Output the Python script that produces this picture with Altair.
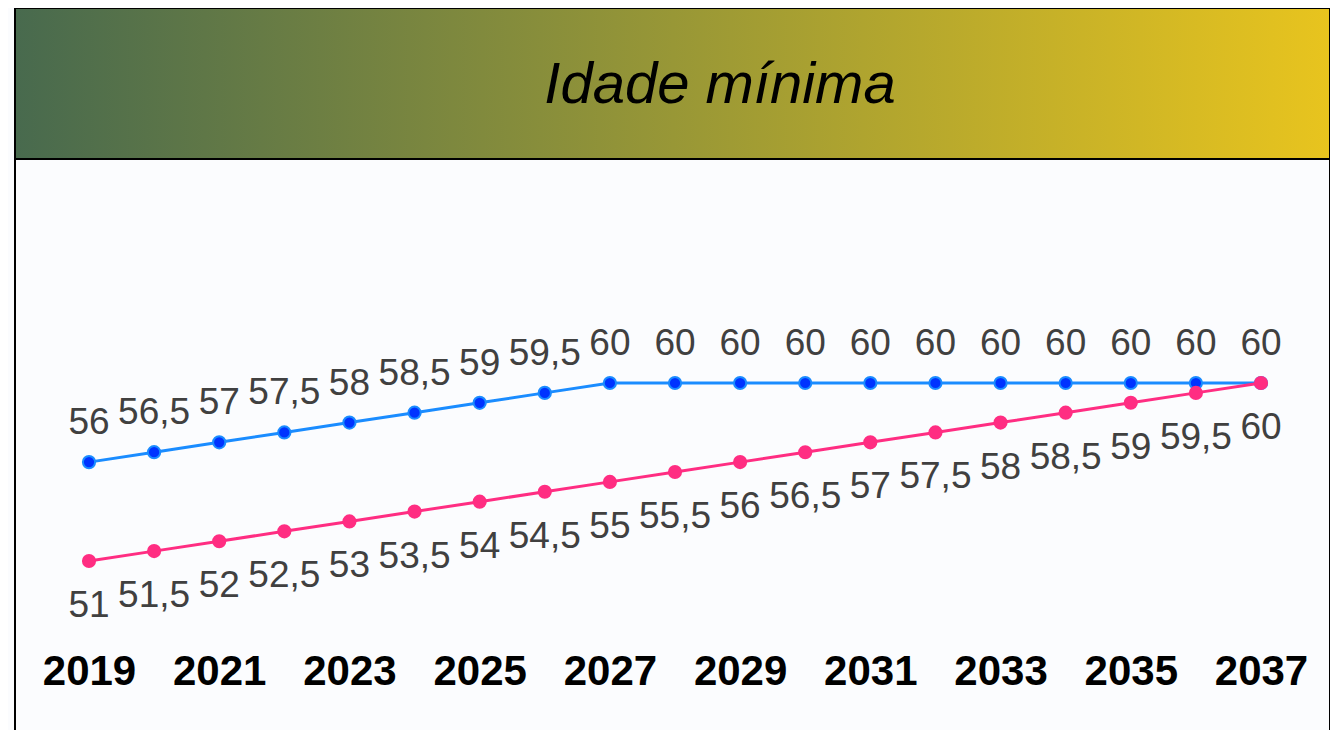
import altair as alt
import pandas as pd

# ---- data ----
years = list(range(2019, 2038))
serie_azul = [56, 56.5, 57, 57.5, 58, 58.5, 59, 59.5, 60, 60, 60, 60, 60, 60, 60, 60, 60, 60, 60]
serie_rosa = [51, 51.5, 52, 52.5, 53, 53.5, 54, 54.5, 55, 55.5, 56, 56.5, 57, 57.5, 58, 58.5, 59, 59.5, 60]
tick_years = [2019, 2021, 2023, 2025, 2027, 2029, 2031, 2033, 2035, 2037]
titulo = "Idade mínima"

W, H = 1315, 728
FONT = "Liberation Sans"

df = pd.DataFrame({"ano": years, "azul": serie_azul, "rosa": serie_rosa})

xenc = alt.X(
    "ano:Q",
    scale=alt.Scale(domain=[2019, 2037], range=[74, 1246], nice=False, zero=False),
    axis=alt.Axis(
        values=tick_years, format="d", labelFontSize=42, labelFontWeight="bold",
        labelColor="black", labelFont=FONT, ticks=False, domain=False, grid=False,
        labelPadding=0, offset=-(H - 643), title=None, labelFlush=False, labelOverlap=False,
    ),
)
yscale = alt.Scale(domain=[51, 60], range=[553, 375], nice=False, zero=False)

base = alt.Chart(df)

header = alt.Chart(pd.DataFrame({"t": [titulo]})).mark_rect(
    fill=alt.Gradient(
        gradient="linear",
        stops=[
            alt.GradientStop(color="#486a4e", offset=0),
            alt.GradientStop(color="#e8c41e", offset=1),
        ],
        x1=0, x2=1, y1=0, y2=0,
    ),
    stroke="black", strokeWidth=2,
).encode(x=alt.value(0), x2=alt.value(W), y=alt.value(0), y2=alt.value(151))

title_text = alt.Chart(pd.DataFrame({"t": [titulo]})).mark_text(
    font=FONT, fontSize=58, fontStyle="italic", color="black",
    align="center", baseline="middle",
).encode(x=alt.value(705), y=alt.value(78), text="t:N")

line_azul = base.mark_line(color="#1a8cff", strokeWidth=3).encode(
    x=xenc, y=alt.Y("azul:Q", scale=yscale, axis=None)
)
pts_azul = base.mark_point(
    filled=True, fill="#0033ff", stroke="#1a8cff", strokeWidth=2, size=150, opacity=1
).encode(x=xenc, y=alt.Y("azul:Q", scale=yscale, axis=None))
lbl_azul = base.transform_calculate(
    lab="replace(format(datum.azul, ''), '.', ',')"
).mark_text(font=FONT, fontSize=37, color="#404040", dy=-39, baseline="middle").encode(
    x=xenc, y=alt.Y("azul:Q", scale=yscale, axis=None), text="lab:N"
)

line_rosa = base.mark_line(color="#ff2d82", strokeWidth=3).encode(
    x=xenc, y=alt.Y("rosa:Q", scale=yscale, axis=None)
)
pts_rosa = base.mark_point(
    filled=True, fill="#ff2d82", size=200, opacity=1, strokeWidth=0
).encode(x=xenc, y=alt.Y("rosa:Q", scale=yscale, axis=None))
lbl_rosa = base.transform_calculate(
    lab="replace(format(datum.rosa, ''), '.', ',')"
).mark_text(font=FONT, fontSize=37, color="#404040", dy=45, baseline="middle").encode(
    x=xenc, y=alt.Y("rosa:Q", scale=yscale, axis=None), text="lab:N"
)

chart = alt.layer(
    header, title_text, line_azul, pts_azul, line_rosa, pts_rosa, lbl_azul, lbl_rosa
).properties(
    width=W, height=H,
    autosize=alt.AutoSizeParams(type="none"),
    padding={"left": 7, "top": 0, "right": 0, "bottom": 0},
    background="#fbfcfe",
).configure_view(
    stroke="black", strokeWidth=2, fill="#fbfcfe"
)

chart.save("out.html", embed_options={"renderer": "svg", "actions": False})
